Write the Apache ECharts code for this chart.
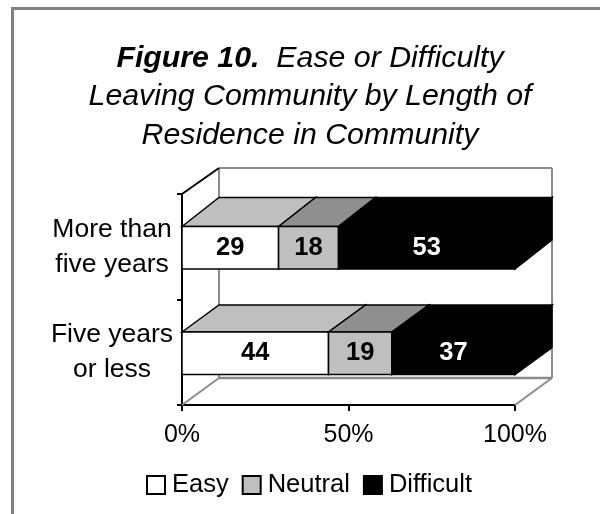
<!DOCTYPE html>
<html><head><meta charset="utf-8">
<style>html,body{margin:0;padding:0;background:#fff}#c{width:600px;height:514px}</style>
<script src="https://cdn.jsdelivr.net/npm/echarts@6/dist/echarts.min.js"></script>
</head><body><div id="c"></div>
<script>
const categories = ['Five years\nor less', 'More than\nfive years'];
const easy = [44, 29];
const neutral = [19, 18];
const difficult = [37, 53];
const xTicks = [0, 50, 100];
const FONT = '"Liberation Sans", Arial, sans-serif';
const DX = 37, DY = 27, BAR_H = 42.5;

function poly(points, fill, stroke, lw) {
  return { type: 'polygon', shape: { points }, style: { fill, stroke: stroke || null, lineWidth: lw || 0 } };
}
function seg(p1, p2, stroke, lw) {
  return { type: 'line', shape: { x1: p1[0], y1: p1[1], x2: p2[0], y2: p2[1] }, style: { stroke, lineWidth: lw } };
}
function wallRender(params, api) {
  const a = api.coord([0, 0]); const size = api.size([0, 1]);
  const L = a[0], R = api.coord([100, 0])[0];
  const B = a[1] + size[1] / 2, T = B - size[1] * 2;
  const g = '#8c8c8c';
  return { type: 'group', children: [
    seg([L + DX, T - DY + 1], [L + DX, B - DY], g, 2),
    seg([L + DX, T - DY + 1], [R + DX, T - DY + 1], g, 2),
    seg([R + DX, T - DY + 1], [R + DX, B - DY], g, 2),
    seg([L + DX, B - DY], [R + DX, B - DY], g, 2.5),
    seg([L, B], [L + DX, B - DY], g, 2),
    seg([R, B], [R + DX, B - DY], g, 2),
    seg([L, T], [L + DX, T - DY + 1], '#000', 2)
  ] };
}
function barRender(front, top, side, text) {
  return function (params, api) {
    const cat = api.value(0);
    const s = api.coord([api.value(1), cat]);
    const e = api.coord([api.value(2), cat]);
    const x0 = s[0], x1 = e[0], cy = s[1] + 1, y0 = cy - BAR_H / 2, y1 = cy + BAR_H / 2;
    const d = api.value(0) === 1 ? DY + 2 : DY;
    const ln = '#000';
    return { type: 'group', children: [
      poly([[x1, y0], [x1 + DX, y0 - d], [x1 + DX, y1 - d], [x1, y1]], side, ln, 1.5),
      poly([[x0, y0], [x0 + DX, y0 - d], [x1 + DX, y0 - d], [x1, y0]], top, ln, 1.5),
      poly([[x0, y0], [x1, y0], [x1, y1], [x0, y1]], front, ln, 1.5),
      { type: 'text', style: { text: String(api.value(3)), x: (x0 + x1) / 2, y: cy, align: 'center', verticalAlign: 'middle',
        fill: text, font: 'bold 25.5px ' + FONT } }
    ] };
  };
}
function stacked(idx) {
  const all = [easy, neutral, difficult];
  return categories.map((c, i) => {
    let st = 0; for (let k = 0; k < idx; k++) st += all[k][i];
    return [i, st, st + all[idx][i], all[idx][i]];
  });
}
function barSeries(name, idx, front, top, side, text) {
  return { name, type: 'custom', coordinateSystem: 'cartesian2d', z: 3 + idx, silent: true, clip: false,
    data: stacked(idx), encode: { x: [1, 2], y: 0 },
    itemStyle: { color: front, borderColor: '#000', borderWidth: 1.5 },
    renderItem: barRender(front, top, side, text) };
}
const chart = echarts.init(document.getElementById('c'), null, { renderer: 'canvas' });
chart.setOption({
  animation: false,
  backgroundColor: '#fff',
  title: {
    left: 305, top: 34, textAlign: 'center',
    text: '{b|Figure 10.}{i|  Ease or Difficulty}\n{i|Leaving Community by Length of}\n{i|Residence in Community}',
    textStyle: { fontWeight: 'normal', rich: {
      b: { fontFamily: FONT, fontSize: 30.3, fontWeight: 'bold', fontStyle: 'italic', color: '#000', lineHeight: 38.5 },
      i: { fontFamily: FONT, fontSize: 30.3, fontWeight: 'normal', fontStyle: 'italic', color: '#000', lineHeight: 38.5 }
    } }
  },
  grid: { left: 182, right: 85, top: 194, bottom: 109 },
  xAxis: { type: 'value', min: 0, max: 100, interval: 50,
    splitLine: { show: false },
    axisLine: { show: true, lineStyle: { color: '#000', width: 2 } },
    axisTick: { show: true, length: 6, lineStyle: { color: '#000', width: 2 } },
    axisLabel: { formatter: v => xTicks.includes(v) ? v + '%' : '', fontFamily: FONT, fontSize: 25, color: '#000', margin: 18, hideOverlap: false, showMinLabel: true, showMaxLabel: true } },
  yAxis: { type: 'category', data: categories,
    axisLine: { show: true, lineStyle: { color: '#000', width: 2 } },
    axisTick: { show: true, length: 5, lineStyle: { color: '#000', width: 2 } },
    axisLabel: { fontFamily: FONT, fontSize: 26.5, color: '#000', align: 'center', margin: 70, lineHeight: 35 } },
  legend: { left: 146, top: 472, padding: 0, itemWidth: 18, itemHeight: 18, itemGap: 13, icon: 'rect',
    textStyle: { fontFamily: FONT, fontSize: 25.5, color: '#000', padding: [0, 0, 0, 2] },
    data: ['Easy', 'Neutral', 'Difficult'], selectedMode: false },
  graphic: [
    { type: 'line', shape: { x1: 12.5, y1: 9, x2: 12.5, y2: 514 }, style: { stroke: '#808080', lineWidth: 3 } },
    { type: 'line', shape: { x1: 11, y1: 8.5, x2: 600, y2: 8.5 }, style: { stroke: '#808080', lineWidth: 3 } }
  ],
  series: [
    { type: 'custom', coordinateSystem: 'cartesian2d', z: 1, silent: true, clip: false, data: [[0, 0]], encode: { x: 0, y: 1 }, renderItem: wallRender },
    barSeries('Easy', 0, '#ffffff', '#bfbfbf', '#bfbfbf', '#000'),
    barSeries('Neutral', 1, '#bfbfbf', '#8f8f8f', '#8f8f8f', '#000'),
    barSeries('Difficult', 2, '#000000', '#000000', '#000000', '#fff')
  ]
});
</script></body></html>
